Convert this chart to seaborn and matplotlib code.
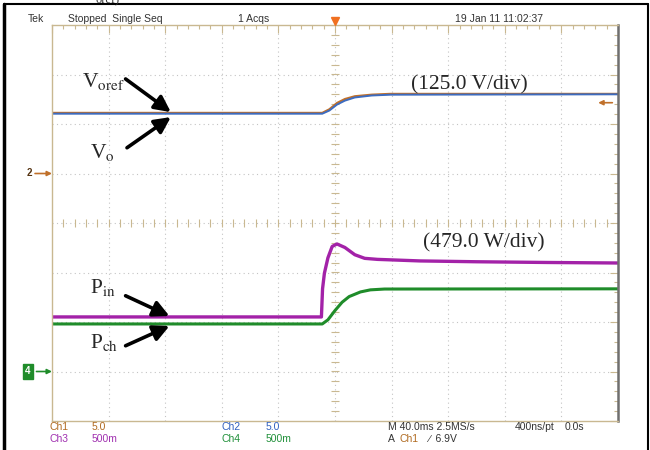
import numpy as np
import matplotlib
matplotlib.use('Agg')
import matplotlib.pyplot as plt
from matplotlib.ticker import MultipleLocator
from matplotlib.lines import Line2D
import seaborn as sns

# time in ms (40 ms/div, trigger at 0)
t_vo = [-200, -9, -4, 1.4, 7, 14, 26, 39, 200]
vo = [151, 151, 159, 174, 184, 192, 197, 199, 200]       # V, blue (Ch2)
voref = [153, 153, 162, 178, 188, 195, 199, 201, 201]    # V, orange (Ch1)

t_pin = [-200, -9.6, -8.8, -7.5, -5, -2, 1.4, 7, 14, 21, 30, 60, 100, 150, 200]
pin = [528, 528, 800, 950, 1100, 1210, 1234, 1200, 1130, 1095, 1085, 1070, 1062, 1055, 1050]  # W

t_pch = [-200, -9, -5, 0, 5, 10, 18, 25, 35, 200]
pch = [460, 460, 500, 590, 670, 725, 770, 790, 798, 800]  # W

v_div = 125.0
p_div = 479.0
ch2_ground = 1.0
ch4_ground = -3.0

sns.set_style('white')
plt.rcParams['mathtext.fontset'] = 'stix'
serif = ['Liberation Serif', 'DejaVu Serif']
scope_font = ['Liberation Sans', 'DejaVu Sans']

tan = '#c9b891'
c_orange = '#c0702a'
c_blue = '#3d6cc0'
c_mag = '#a322a8'
c_green = '#1f8c2a'

fig = plt.figure(figsize=(6.5, 4.5), dpi=100)
ax = fig.add_axes([52/650, 29/450, 566/650, 396/450])
ax.set_xlim(-200, 200)
ax.set_ylim(-4, 4)

# graticule
for x in range(-160, 200, 40):
    ax.axvline(x, color='#c4c4c4', ls=(0, (1, 3)), lw=0.8, zorder=0)
for y in range(-3, 4):
    ax.axhline(y, color='#c4c4c4', ls=(0, (1, 3)), lw=0.8, zorder=0)
ax.vlines(np.arange(-200, 201, 8), -0.08, 0.08, color=tan, lw=0.8, zorder=0)
ax.hlines(np.arange(-4, 4.01, 0.2), -3, 3, color=tan, lw=0.8, zorder=0)
ax.xaxis.set_major_locator(MultipleLocator(40))
ax.xaxis.set_minor_locator(MultipleLocator(8))
ax.yaxis.set_major_locator(MultipleLocator(1))
ax.yaxis.set_minor_locator(MultipleLocator(0.2))
ax.tick_params(which='both', direction='in', top=True, right=True,
               labelbottom=False, labelleft=False, color=tan, width=0.8)
ax.tick_params(which='major', length=6)
ax.tick_params(which='minor', length=3)
for s in ax.spines.values():
    s.set_color(tan)
    s.set_linewidth(1.0)
ax.spines['right'].set_color('#6f6f6f')
ax.spines['right'].set_linewidth(1.8)

# traces
sns.lineplot(x=t_vo, y=[v / v_div + ch2_ground for v in voref], ax=ax,
             color=c_orange, lw=1.6, sort=False, estimator=None)
sns.lineplot(x=t_vo, y=[v / v_div + ch2_ground for v in vo], ax=ax,
             color=c_blue, lw=1.4, sort=False, estimator=None)
sns.lineplot(x=t_pin, y=[p / p_div + ch4_ground for p in pin], ax=ax,
             color=c_mag, lw=2.4, sort=False, estimator=None)
sns.lineplot(x=t_pch, y=[p / p_div + ch4_ground for p in pch], ax=ax,
             color=c_green, lw=2.2, sort=False, estimator=None)
ax.set_xlabel('')
ax.set_ylabel('')

# labels and arrows
arw = dict(arrowstyle='-|>', lw=2.6, color='black', mutation_scale=24,
           shrinkA=0, shrinkB=0)
ax.text(-179, 2.85, r'V$_{\mathrm{oref}}$', fontsize=15.5, family=serif, va='center')
ax.annotate('', xy=(-116, 2.24), xytext=(-148, 2.91), arrowprops=arw)
ax.text(-173, 1.43, r'V$_{\mathrm{o}}$', fontsize=15.5, family=serif, va='center')
ax.annotate('', xy=(-116, 2.14), xytext=(-147, 1.52), arrowprops=arw)
ax.text(-173, -1.31, r'P$_{\mathrm{in}}$', fontsize=15.5, family=serif, va='center')
ax.annotate('', xy=(-117, -1.88), xytext=(-148, -1.47), arrowprops=arw)
ax.text(-173, -2.42, r'P$_{\mathrm{ch}}$', fontsize=15.5, family=serif, va='center')
ax.annotate('', xy=(-117, -2.08), xytext=(-148, -2.48), arrowprops=arw)
ax.text(95, 2.79, '(125.0 V/div)', fontsize=15.5, family=serif, ha='center', va='center')
ax.text(105, -0.40, '(479.0 W/div)', fontsize=15.5, family=serif, ha='center', va='center')

# channel markers
ax.annotate('', xy=(-200, ch2_ground), xytext=(-212, ch2_ground), annotation_clip=False,
            arrowprops=dict(arrowstyle='-|>', color=c_orange, lw=1.2, mutation_scale=7,
                            shrinkA=0, shrinkB=0))
ax.text(-214, ch2_ground, '2', fontsize=7, color='#553311', ha='right', va='center',
        family=scope_font, fontweight='bold', clip_on=False)
ax.text(-215, ch4_ground, '4', fontsize=7, color='white', ha='right', va='center',
        family=scope_font, fontweight='bold', clip_on=False,
        bbox=dict(boxstyle='square,pad=0.25', fc=c_green, ec=c_green))
ax.annotate('', xy=(-200, ch4_ground), xytext=(-211, ch4_ground), annotation_clip=False,
            arrowprops=dict(arrowstyle='-|>', color=c_green, lw=1.2, mutation_scale=7,
                            shrinkA=0, shrinkB=0))
ax.annotate('', xy=(186, 2.43), xytext=(196, 2.43),
            arrowprops=dict(arrowstyle='-|>', color=c_orange, lw=1.2, mutation_scale=7,
                            shrinkA=0, shrinkB=0))
ax.plot([0], [4.08], marker='v', color='#f07020', ms=6, clip_on=False, zorder=5)

# scope header / footer
fs = 7.5
hdr = dict(fontsize=fs, color='#333333', family=scope_font, va='center')
fig.text(28/650, 1 - 19/450, 'Tek', **hdr)
fig.text(68/650, 1 - 19/450, 'Stopped  Single Seq', **hdr)
fig.text(238/650, 1 - 19/450, '1 Acqs', **hdr)
fig.text(455/650, 1 - 19/450, '19 Jan 11 11:02:37', **hdr)

r1 = 1 - 427/450
r2 = 1 - 439/450


def foot(x, y, s, c='#333333'):
    fig.text(x/650, y, s, fontsize=fs, color=c, family=scope_font, va='center')


foot(50, r1, 'Ch1', '#b06a20')
foot(92, r1, '5.0', '#b06a20')
foot(50, r2, 'Ch3', '#a030b0')
foot(92, r2, '500m', '#a030b0')
foot(221, r1, 'Ch2', '#3060c0')
foot(266, r1, '5.0', '#3060c0')
foot(221, r2, 'Ch4', '#20903a')
foot(266, r2, '500m', '#20903a')
foot(388, r1, 'M 40.0ms 2.5MS/s')
foot(515, r1, '400ns/pt')
foot(565, r1, '0.0s')
foot(388, r2, 'A')
foot(400, r2, 'Ch1', '#b06a20')
foot(428, r2, '\u2215  6.9V')

# outer page frame and clipped caption above
fig.add_artist(Line2D([4/650, 4/650], [0, 1 - 4/450], color='black', lw=2.5))
fig.add_artist(Line2D([648/650, 648/650], [0, 1 - 4/450], color='black', lw=1.5))
fig.add_artist(Line2D([4/650, 648/650], [1 - 4/450, 1 - 4/450], color='black', lw=1.5))
fig.text(95/650, 1.0, 'oref)', fontsize=9, family=serif, va='center', color='#333333')

fig.savefig('out.png', dpi=100)
